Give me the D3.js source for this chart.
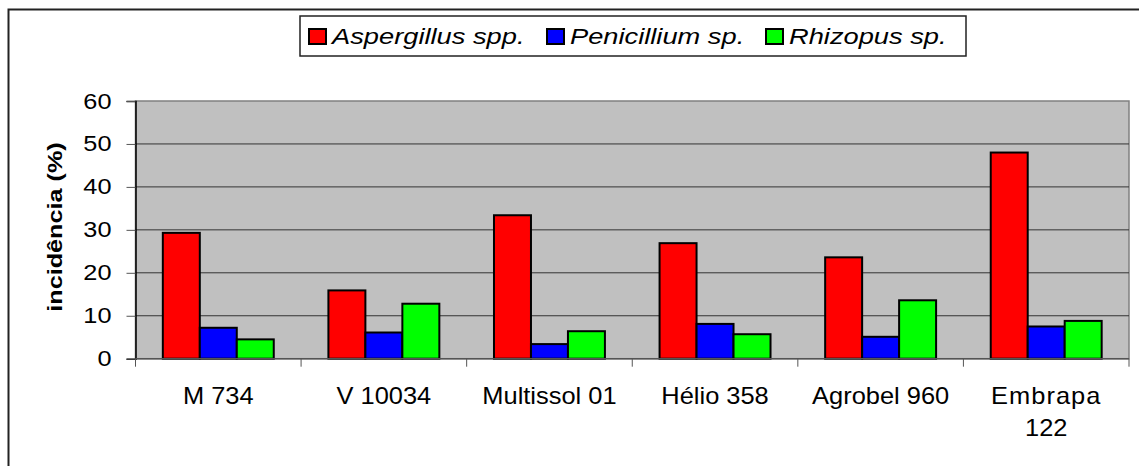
<!DOCTYPE html>
<html>
<head>
<meta charset="utf-8">
<script src="https://cdn.jsdelivr.net/npm/d3@7"></script>
<style>
  body { margin: 0; background: #fff; }
  text { font-family: "Liberation Sans", Arial, sans-serif; }
</style>
</head>
<body>
<svg width="1139" height="466"></svg>
<script>
const categories = ["M 734", "V 10034", "Multissol 01", "Hélio 358", "Agrobel 960", "Embrapa 122"];
const seriesNames = ["Aspergillus spp.", "Penicillium sp.", "Rhizopus sp."];
const aspergillus = [29.3, 15.9, 33.4, 26.9, 23.6, 48.0];
const penicillium = [7.2, 6.1, 3.4, 8.1, 5.1, 7.5];
const rhizopus = [4.5, 12.8, 6.4, 5.7, 13.6, 8.8];
const yTicks = [0, 10, 20, 30, 40, 50, 60];
const colors = ["#ff0000", "#0000ff", "#00ff00"];

function drawChart() {
    let svg = d3.select("svg");
    let seriesValues = [aspergillus, penicillium, rhizopus];

    let left = 135.5, right = 1129, top = 101, bottom = 358.7;

    // outer frame (only left and top edges are visible)
    svg.append("rect")
        .attr("x", 8.5).attr("y", 9.5)
        .attr("width", 1200).attr("height", 500)
        .attr("fill", "none")
        .attr("stroke", "#222")
        .attr("stroke-width", 2);

    let x0 = d3.scaleBand().domain(categories).range([left, right]).padding(0);
    let bw = x0.bandwidth();
    let x1 = d3.scaleBand().domain(seriesNames).range([bw * 0.165, bw * 0.835]).padding(0);
    let y = d3.scaleLinear().domain([0, 60]).range([bottom, top]);

    // plot area
    svg.append("rect")
        .attr("x", left).attr("y", top)
        .attr("width", right - left).attr("height", bottom - top)
        .attr("fill", "#c0c0c0")
        .attr("stroke", "#808080")
        .attr("stroke-width", 1.5);

    // gridlines
    svg.append("g").selectAll("line")
        .data(yTicks.filter(d => d > 0 && d < 60))
        .enter()
        .append("line")
        .attr("x1", left).attr("x2", right)
        .attr("y1", d => y(d)).attr("y2", d => y(d))
        .attr("stroke", "#333")
        .attr("stroke-width", 1);

    // bars
    let groups = svg.append("g").selectAll("g")
        .data(categories)
        .enter()
        .append("g")
        .attr("transform", d => "translate(" + x0(d) + ",0)");

    groups.selectAll("rect")
        .data((c, i) => seriesNames.map((s, j) => ({ s: s, v: seriesValues[j][i], c: colors[j] })))
        .enter()
        .append("rect")
        .attr("x", d => x1(d.s))
        .attr("y", d => y(d.v))
        .attr("width", x1.bandwidth())
        .attr("height", d => bottom - y(d.v))
        .attr("fill", d => d.c)
        .attr("stroke", "#000")
        .attr("stroke-width", 2);

    // y axis
    let yAxis = d3.axisLeft(y).tickValues(yTicks).tickSize(9).tickPadding(5);
    let gy = svg.append("g")
        .attr("transform", "translate(" + left + ",0)")
        .call(yAxis);
    gy.select(".domain").attr("stroke", "#000").attr("stroke-width", 1.5);
    gy.selectAll(".tick line").attr("stroke", "#555");
    gy.selectAll("text")
        .attr("x", 0)
        .attr("transform", "translate(-24,0) scale(1.15,1)")
        .attr("font-size", 22).attr("fill", "#000")
        .style("font-family", "'Liberation Sans', Arial, sans-serif");

    // x axis: ticks at category boundaries
    let gx = svg.append("g");
    gx.append("line")
        .attr("x1", left).attr("x2", right)
        .attr("y1", bottom).attr("y2", bottom)
        .attr("stroke", "#555").attr("stroke-width", 1.5);
    let bounds = categories.map(c => x0(c)).concat([right]);
    gx.selectAll(".xt")
        .data(bounds)
        .enter()
        .append("line")
        .attr("class", "xt")
        .attr("x1", d => d).attr("x2", d => d)
        .attr("y1", bottom).attr("y2", bottom + 8)
        .attr("stroke", "#555");

    let labels = gx.selectAll(".xl")
        .data(categories)
        .enter()
        .append("text")
        .attr("class", "xl")
        .attr("transform", d => "translate(" + (x0(d) + bw / 2) + ",404) scale(1.06,1)")
        .attr("text-anchor", "middle")
        .attr("font-size", 24)
        .attr("fill", "#000");
    labels.each(function (d) {
        let t = d3.select(this);
        if (d === "Embrapa 122") {
            t.append("tspan").attr("x", 0).attr("letter-spacing", 1).text("Embrapa");
            t.append("tspan").attr("x", 0).attr("dy", 32).text("122");
        } else {
            t.text(d);
        }
    });

    // y title
    svg.append("text")
        .attr("transform", "translate(62," + 227 + ") rotate(-90) scale(1.2,1)")
        .attr("text-anchor", "middle")
        .attr("font-size", 21)
        .attr("font-weight", "bold")
        .attr("fill", "#000")
        .text("incidência (%)");

    // legend
    let legend = svg.append("g");
    legend.append("rect")
        .attr("x", 300).attr("y", 16)
        .attr("width", 666).attr("height", 40)
        .attr("fill", "#fff")
        .attr("stroke", "#222")
        .attr("stroke-width", 1.5);
    let legendX = [309, 547, 766];
    let items = legend.selectAll(".li")
        .data(seriesNames)
        .enter()
        .append("g")
        .attr("class", "li")
        .attr("transform", (d, i) => "translate(" + legendX[i] + ",29)");
    items.append("rect")
        .attr("width", 17).attr("height", 15)
        .attr("fill", (d, i) => colors[i])
        .attr("stroke", "#000")
        .attr("stroke-width", 2);
    items.append("text")
        .attr("transform", "translate(23,15) scale(1.24,1)")
        .attr("font-size", 22)
        .attr("font-style", "italic")
        .attr("fill", "#000")
        .text(d => d);
}

drawChart();
</script>
</body>
</html>
